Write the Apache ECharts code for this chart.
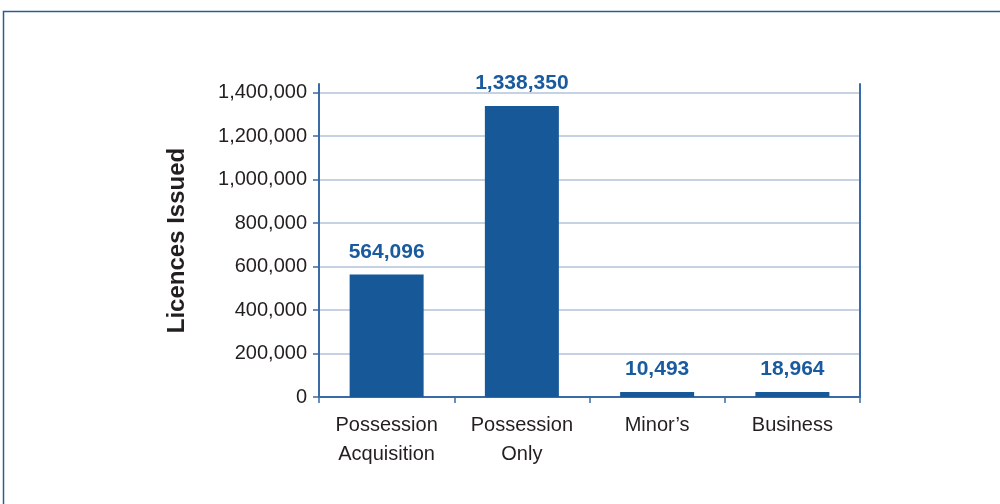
<!DOCTYPE html>
<html><head><meta charset="utf-8">
<script src="https://cdn.jsdelivr.net/npm/echarts@6/dist/echarts.min.js"></script>
<style>html,body{margin:0;padding:0;background:#fff}#c{width:1000px;height:504px}</style>
</head><body><div id="c"></div>
<script>
const categories = ['Possession\nAcquisition', 'Possession\nOnly', 'Minor’s', 'Business'];
const licences = [564096, 1338350, 10493, 18964];
const yTicks = [0, 200000, 400000, 600000, 800000, 1000000, 1200000, 1400000];

const chart = echarts.init(document.getElementById('c'));
const fmt = v => v.toLocaleString('en-US');
const axisColor = '#3b6ba6';
const font = 'Liberation Sans, Arial, sans-serif';
chart.setOption({
  animation: false,
  graphic: [{
    type: 'rect', shape: { x: 3.5, y: 11.5, width: 1100, height: 600 },
    style: { fill: 'none', stroke: '#2a5b92', lineWidth: 1.5 }, silent: true
  }],
  grid: { left: 319, right: 140, top: 84, bottom: 107 },
  xAxis: {
    type: 'category', data: categories,
    axisLine: { lineStyle: { color: axisColor, width: 2 } },
    axisTick: { show: true, length: 6, lineStyle: { color: axisColor, width: 1.5 } },
    axisLabel: { color: '#231f20', fontSize: 20, fontFamily: font, lineHeight: 29, margin: 14 }
  },
  yAxis: [{
    type: 'value', min: 0, max: 1440000, interval: 200000,
    name: 'Licences Issued', nameLocation: 'middle', nameGap: 130,
    nameTextStyle: { fontSize: 24, fontWeight: 'bold', color: '#231f20', fontFamily: font },
    axisLine: { show: true, lineStyle: { color: axisColor, width: 2 } },
    axisTick: { show: true, length: 6, lineStyle: { color: axisColor, width: 1.5 } },
    axisLabel: { color: '#231f20', fontSize: 20, fontFamily: font, margin: 12, showMaxLabel: false,
      formatter: v => yTicks.includes(v) ? fmt(v) : '' },
    splitLine: { show: true, showMaxLine: false, lineStyle: { color: '#c6d2e4', width: 2 } }
  }, {
    type: 'value', position: 'right', min: 0, max: 1440000, interval: 200000,
    axisLine: { show: true, lineStyle: { color: axisColor, width: 2 } },
    axisTick: { show: false }, axisLabel: { show: false }, splitLine: { show: false }
  }],
  series: [{
    type: 'bar', data: licences, barWidth: 74, barMinHeight: 5,
    itemStyle: { color: '#175899' },
    label: { show: true, position: 'top', distance: 12, formatter: p => fmt(p.value),
      color: '#1a5a9e', fontWeight: 'bold', fontSize: 21, fontFamily: font }
  }]
});
</script></body></html>
